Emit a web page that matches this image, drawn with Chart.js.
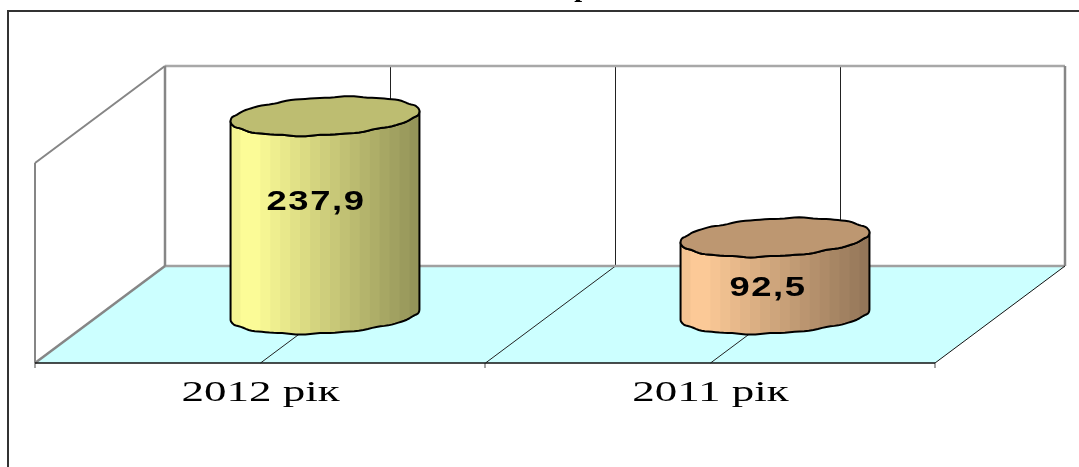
<!DOCTYPE html>
<html>
<head>
<meta charset="utf-8">
<style>
  html, body { margin: 0; padding: 0; background: #fff; overflow: hidden; }
  canvas { display: block; }
</style>
<script src="https://cdn.jsdelivr.net/npm/chart.js@4"></script>
</head>
<body>
<canvas id="myChart" width="1079" height="467"></canvas>
<script>
///////////////// data /////////////////
const categories = ['2012 рік', '2011 рік'];
const values = [237.9, 92.5];
const valueLabels = ['237,9', '92,5'];
const axisMax = 240;
const titleFragment = 'р';   // only the bottom of the title survives in the crop

///////////////// styles /////////////////
const bodyColors = [[255, 255, 153], [255, 204, 153]];   // cylinder 1, cylinder 2
const labelShift = [[-9, -15], [-7, 11]];                // data labels sit off centre
const depthX = 65, depthY = 48.5;                        // half of the 3d floor depth
const wallGrey = '#868686';

function shade(rgb, m) {
  return 'rgb(' + rgb.map(c => Math.round(c * m)).join(',') + ')';
}

function stretchedText(ctx, txt, cx, cy, font, sx, spacing) {
  ctx.save();
  ctx.translate(cx, cy);
  ctx.scale(sx, 1);
  ctx.font = font;
  ctx.letterSpacing = (spacing || 0) + 'px';
  ctx.fillStyle = '#000';
  ctx.textAlign = 'center';
  ctx.textBaseline = 'middle';
  ctx.fillText(txt, 0, 0);
  ctx.restore();
}

function line(ctx, x1, y1, x2, y2, color, width) {
  ctx.strokeStyle = color;
  ctx.lineWidth = width;
  ctx.beginPath();
  ctx.moveTo(x1, y1);
  ctx.lineTo(x2, y2);
  ctx.stroke();
}

// point on the tilted ellipse of a cylinder cap, slightly wavy like the original
function capPoint(cx, cy, rx, t) {
  const a = rx * 0.966, vx = rx * 0.256, vy = rx * 0.206;
  const wob = 0.4 * Math.sin(t * 11) + 0.25 * Math.sin(t * 19);
  return [cx + a * Math.cos(t) + vx * Math.sin(t), cy - vy * Math.sin(t) + wob];
}

const rightT = Math.atan2(0.256, 0.966);   // angle of the right silhouette point

// frame, walls, floor and grid, all hung on the chart's own scales
const walls = {
  id: 'walls',
  beforeDatasetsDraw(chart) {
    const ctx = chart.ctx, x = chart.scales.x, y = chart.scales.y;
    const top = y.getPixelForValue(axisMax), base = y.getPixelForValue(0);
    const xl = x.getPixelForValue(-0.5), xr = x.getPixelForValue(1.5);
    const backL = xl + depthX, backR = xr + depthX, frontL = xl - depthX, frontR = xr - depthX;
    const backY = base - depthY, frontY = base + depthY, backTop = top - depthY, frontTop = top + depthY;

    ctx.save();
    // outer frame, right side is cut off
    line(ctx, 8, 11, 1079, 11, '#333', 2);
    line(ctx, 8, 10, 8, 467, '#333', 2);

    // floor
    ctx.fillStyle = '#ccffff';
    ctx.beginPath();
    ctx.moveTo(backL, backY);
    ctx.lineTo(backR, backY);
    ctx.lineTo(frontR, frontY);
    ctx.lineTo(frontL, frontY);
    ctx.closePath();
    ctx.fill();

    // grid lines on back wall and floor
    [0, 0.5, 1].forEach(v => {
      const p = x.getPixelForValue(v);
      line(ctx, p + depthX + 0.5, backTop, p + depthX + 0.5, backY, '#222', 1);
      line(ctx, p + depthX + 0.5, backY, p - depthX + 0.5, frontY, '#222', 1);
    });

    // wall outline
    line(ctx, backL, backTop, backR, backTop, '#a8a8a8', 2.5);
    line(ctx, backL, backY, backR, backY, '#a0a0a0', 2.5);
    line(ctx, backL, backTop, backL, backY, wallGrey, 2.5);
    line(ctx, backR, backTop, backR, backY, wallGrey, 2.5);
    line(ctx, frontL, frontTop, frontL, frontY, wallGrey, 2);
    line(ctx, frontL, frontTop, backL, backTop, wallGrey, 2);
    line(ctx, frontL, frontY, backL, backY, wallGrey, 2.5);
    line(ctx, frontR, frontY, backR, backY, '#111', 1);

    // front axis + ticks
    [-0.5, 0.5, 1.5].forEach(v => {
      const p = x.getPixelForValue(v) - depthX;
      line(ctx, p, frontY, p, frontY + 5, wallGrey, 1.5);
    });
    line(ctx, frontL, frontY, frontR, frontY, '#111', 1.5);
    ctx.restore();
  }
};

// cylinders take position and size from the bar elements
const cylinders = {
  id: 'cylinders',
  afterDatasetsDraw(chart) {
    const ctx = chart.ctx;
    chart.getDatasetMeta(0).data.forEach((bar, i) => {
      const rgb = bodyColors[i];
      const rx = bar.width / 2, cx = bar.x;
      const topY = bar.y, baseY = bar.base;
      const steps = 60;

      // body outline: front half of bottom cap, up the side, front half of top cap
      const side = new Path2D();
      for (let k = 0; k <= steps; k++) {
        const p = capPoint(cx, baseY, rx, rightT - Math.PI * k / steps);
        k === 0 ? side.moveTo(p[0], p[1]) : side.lineTo(p[0], p[1]);
      }
      for (let k = 0; k <= steps; k++) {
        const p = capPoint(cx, topY, rx, rightT - Math.PI + Math.PI * k / steps);
        side.lineTo(p[0], p[1]);
      }
      side.closePath();

      // stepped shading across the body
      ctx.save();
      ctx.clip(side);
      const bands = 19;
      const w = 2 * rx / bands;
      for (let b = 0; b < bands; b++) {
        const f = (b + 0.5) / bands;
        const m = f < 0.1 ? 0.94 + f * 0.6 : 1 - (f - 0.1) * 0.48;
        ctx.fillStyle = shade(rgb, m);
        ctx.fillRect(cx - rx + b * w, topY - 40, w + 1, baseY - topY + 100);
      }
      ctx.restore();

      ctx.strokeStyle = '#000';
      ctx.lineWidth = 2;
      ctx.lineJoin = 'round';
      ctx.stroke(side);

      // top cap
      const cap = new Path2D();
      for (let k = 0; k < 120; k++) {
        const p = capPoint(cx, topY, rx, k / 120 * Math.PI * 2);
        k === 0 ? cap.moveTo(p[0], p[1]) : cap.lineTo(p[0], p[1]);
      }
      cap.closePath();
      ctx.fillStyle = shade(rgb, 0.74);
      ctx.fill(cap);
      ctx.stroke(cap);

      // data label
      stretchedText(ctx, valueLabels[i], cx + labelShift[i][0], (topY + baseY) / 2 + labelShift[i][1] + 1.5,
        'bold 28px "Liberation Sans"', 1.3, 1.2);
    });
  }
};

// category labels go under the front edge of the floor, title scrap at the very top
const labels = {
  id: 'labels',
  afterDraw(chart) {
    const ctx = chart.ctx, x = chart.scales.x;
    categories.forEach((c, i) => {
      stretchedText(ctx, c, x.getPixelForValue(i) - depthX + 0.5, 393, '30px "Liberation Serif"', 1.5);
    });
    stretchedText(ctx, titleFragment, 582, -11, 'bold 28px "Liberation Serif"', 1);
  }
};

new Chart(document.getElementById('myChart').getContext('2d'), {
  type: 'bar',
  data: {
    labels: categories,
    datasets: [{
      data: values,
      backgroundColor: 'rgba(0,0,0,0)',
      borderWidth: 0,
      categoryPercentage: 1,
      barPercentage: 0.42
    }]
  },
  options: {
    responsive: false,
    animation: false,
    layout: { padding: { left: 100, right: 79, top: 114.5, bottom: 152.5 } },
    plugins: { legend: { display: false }, title: { display: false }, tooltip: { enabled: false } },
    scales: {
      x: { display: false },
      y: { display: false, min: 0, max: axisMax }
    }
  },
  plugins: [walls, cylinders, labels]
});
</script>
</body>
</html>
